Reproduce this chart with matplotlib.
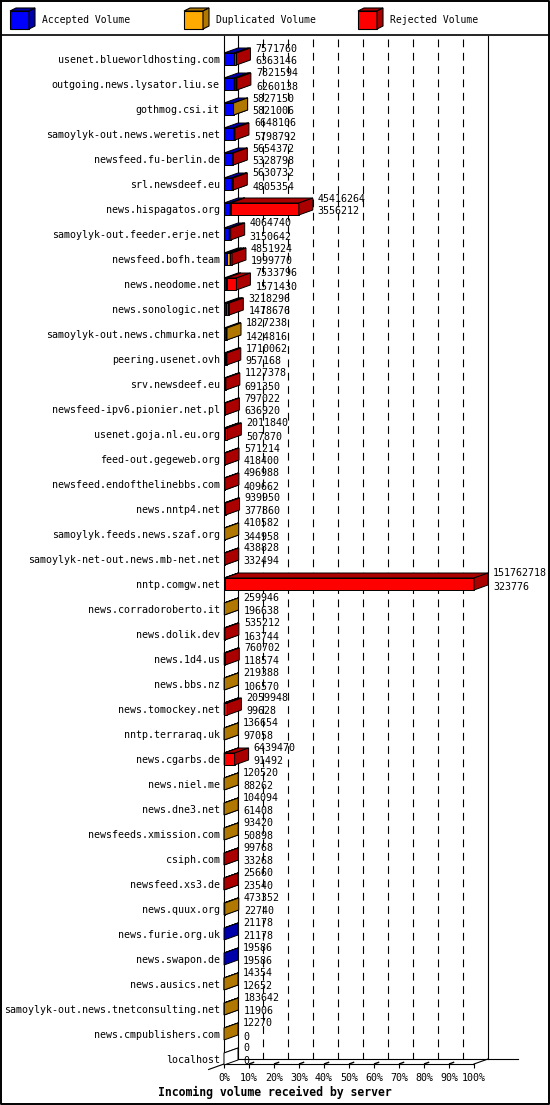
import numpy as np
import matplotlib.pyplot as plt
from matplotlib.patches import Polygon

servers = [
    "usenet.blueworldhosting.com", "outgoing.news.lysator.liu.se", "gothmog.csi.it",
    "samoylyk-out.news.weretis.net", "newsfeed.fu-berlin.de", "srl.newsdeef.eu",
    "news.hispagatos.org", "samoylyk-out.feeder.erje.net", "newsfeed.bofh.team",
    "news.neodome.net", "news.sonologic.net", "samoylyk-out.news.chmurka.net",
    "peering.usenet.ovh", "srv.newsdeef.eu", "newsfeed-ipv6.pionier.net.pl",
    "usenet.goja.nl.eu.org", "feed-out.gegeweb.org", "newsfeed.endofthelinebbs.com",
    "news.nntp4.net", "samoylyk.feeds.news.szaf.org", "samoylyk-net-out.news.mb-net.net",
    "nntp.comgw.net", "news.corradoroberto.it", "news.dolik.dev", "news.1d4.us",
    "news.bbs.nz", "news.tomockey.net", "nntp.terraraq.uk", "news.cgarbs.de",
    "news.niel.me", "news.dne3.net", "newsfeeds.xmission.com", "csiph.com",
    "newsfeed.xs3.de", "news.quux.org", "news.furie.org.uk", "news.swapon.de",
    "news.ausics.net", "samoylyk-out.news.tnetconsulting.net", "news.cmpublishers.com",
    "localhost",
]
total = [
    7571760, 7821594, 5827150, 6648106, 5654372, 5630732, 45416264, 4064740,
    4851924, 7533796, 3218296, 1827238, 1710062, 1127378, 797022, 2011840,
    571214, 496988, 939950, 410582, 438828, 151762718, 259946, 535212, 760702,
    219388, 2059948, 136654, 6439470, 120520, 104094, 93420, 99768, 25660,
    473352, 21178, 19586, 14354, 183642, 12270, 0,
]
accepted = [
    6363146, 6260138, 5821006, 5798792, 5328798, 4805354, 3556212, 3150642,
    1999770, 1571430, 1478676, 1424816, 957168, 691350, 636920, 507870,
    418400, 409662, 377860, 344958, 332494, 323776, 196638, 163744, 118574,
    106570, 99628, 97058, 91492, 88262, 61408, 50898, 33268, 23540,
    22740, 21178, 19586, 12652, 11906, 0, 0,
]
duplicated = [
    0, 800000, 6144, 0, 0, 400000, 600000, 0,
    1700000, 0, 900000, 402422, 0, 0, 0, 0,
    0, 0, 0, 65624, 0, 0, 63308, 0, 0,
    112818, 0, 39596, 0, 32258, 42686, 42522, 0, 0,
    450612, 0, 0, 1702, 171736, 12270, 0,
]
rejected = [
    1208614, 761456, 0, 849314, 325574, 425378, 41260052, 914098,
    1152154, 5962366, 839620, 0, 752894, 436028, 160102, 1503970,
    152814, 87326, 562090, 0, 106334, 151438942, 0, 371468, 642128,
    0, 1960320, 0, 6347978, 0, 0, 0, 66500, 2120,
    0, 0, 0, 0, 0, 0, 0,
]
series = [("Accepted Volume", accepted, "#0000ff", "#0000aa"),
          ("Duplicated Volume", duplicated, "#ffaa00", "#b07800"),
          ("Rejected Volume", rejected, "#ff0000", "#aa0000")]

W, H = 550, 1105
mono = "DejaVu Sans Mono"
fig = plt.figure(figsize=(W / 100, H / 100), dpi=100)

# pixel helper axes for frame and legend
pix = fig.add_axes([0, 0, 1, 1], zorder=0)
pix.set_xlim(0, W)
pix.set_ylim(H, 0)
pix.axis("off")
pix.plot([1, W - 1, W - 1, 1, 1], [1, 1, H - 1, H - 1, 1], color="black", lw=1.4)
pix.plot([1, W - 1], [35, 35], color="black", lw=1.2)

for k, (name, _, light, dark) in enumerate(series):
    x0 = 10 + 174 * k
    front = [(x0, 11), (x0 + 19, 11), (x0 + 19, 29), (x0, 29)]
    top = [(x0, 11), (x0 + 19, 11), (x0 + 25, 8), (x0 + 6, 8)]
    side = [(x0 + 19, 11), (x0 + 19, 29), (x0 + 25, 26), (x0 + 25, 8)]
    for pts, c in ((front, light), (top, dark), (side, dark)):
        pix.add_patch(Polygon(pts, closed=True, facecolor=c, edgecolor="black", lw=0.8))
    pix.text(x0 + 32, 20, name, family=mono, fontsize=7, va="center", ha="left")

# main axes: front plane of the 3-D chart
left_px, right_px, top_px, floor_px = 224, 474, 36, 1064
row0_px, row_step = 59, 25
ax = fig.add_axes([left_px / W, (H - floor_px) / H, (right_px - left_px) / W,
                   (floor_px - top_px) / H], zorder=2)
ax.patch.set_alpha(0)
n = len(servers)
rows = np.arange(n)
ylo = (floor_px - row0_px) / row_step
yhi = (top_px - row0_px) / row_step
ax.set_xlim(0, 100)
ax.set_ylim(ylo, yhi)

DX = 14 / 2.5            # depth in percent units
DY = 5 / row_step        # depth in row units
HH = 6 / row_step        # half height of a bar

for s in ("top", "right"):
    ax.spines[s].set_visible(False)
for s in ("left", "bottom"):
    ax.spines[s].set_linewidth(0.8)

# back wall
ax.plot([DX, DX], [yhi, ylo - DY], color="black", lw=0.8, clip_on=False, zorder=1)
ax.plot([100 + DX, 100 + DX], [yhi, ylo - DY], color="black", lw=0.8, clip_on=False, zorder=1)
for p in range(10, 100, 10):
    ax.plot([p + DX, p + DX], [yhi + 0.1, ylo - DY], color="black", lw=0.8,
            ls=(0, (7, 5)), clip_on=False, zorder=1)
ax.plot([DX, 100 + DX + 12], [ylo - DY, ylo - DY], color="black", lw=0.8, clip_on=False, zorder=1)
ax.plot([100, 100 + DX], [ylo, ylo - DY], color="black", lw=0.8, clip_on=False, zorder=1)
ax.plot([DX, -DX * 1.1], [ylo - DY, ylo + DY * 1.1], color="black", lw=0.8, clip_on=False, zorder=1)
for p in range(10, 100, 10):
    ax.plot([p, p + DX], [ylo, ylo - DY], color="black", lw=1.0,
            ls=(0, (4, 7)), clip_on=False, zorder=1)

tot = np.array(total, dtype=float)
scale = 100.0 / tot.max()
start = np.zeros(n)


def box_faces(x0, x1, y, dark, z):
    top = [(x0, y - HH), (x1, y - HH), (x1 + DX, y - HH - DY), (x0 + DX, y - HH - DY)]
    side = [(x1, y - HH), (x1, y + HH), (x1 + DX, y + HH - DY), (x1 + DX, y - HH - DY)]
    for pts in (top, side):
        ax.add_patch(Polygon(pts, closed=True, facecolor=dark, edgecolor="black",
                             lw=0.7, zorder=z, clip_on=False))


for k, (name, vals, light, dark) in enumerate(series):
    w = np.array(vals, dtype=float) * scale
    m = w > 0
    z = 3 + k * 0.1
    ax.barh(rows[m], w[m], left=start[m], height=2 * HH, color=light,
            edgecolor="black", linewidth=0.7, zorder=z, clip_on=False)
    for r in rows[m]:
        box_faces(start[r], start[r] + w[r], r, dark, z + 0.05)
    start = start + w

for r in rows[tot == 0]:
    box_faces(0, 0, r, "white", 3)

for r in rows:
    xe = tot[r] * scale + DX + 2.0
    ax.text(xe, r - 0.42, str(total[r]), family=mono, fontsize=7.2,
            va="center", ha="left", clip_on=False)
    ax.text(xe, r + 0.1, str(accepted[r]), family=mono, fontsize=7.2,
            va="center", ha="left", clip_on=False)

ax.set_yticks(rows, labels=servers)
ax.set_xticks(range(0, 101, 10), labels=[f"{p}%" for p in range(0, 101, 10)])
ax.tick_params(axis="y", length=0, pad=3)
ax.tick_params(axis="x", length=3, width=0.8, pad=3.5)
for lab in ax.get_yticklabels() + ax.get_xticklabels():
    lab.set_family(mono)
    lab.set_fontsize(7.2)

fig.text(0.5, (H - 1092) / H, "Incoming volume received by server", family=mono,
         fontweight="bold", fontsize=8.3, ha="center", va="center")

fig.savefig("out.png", dpi=100)
